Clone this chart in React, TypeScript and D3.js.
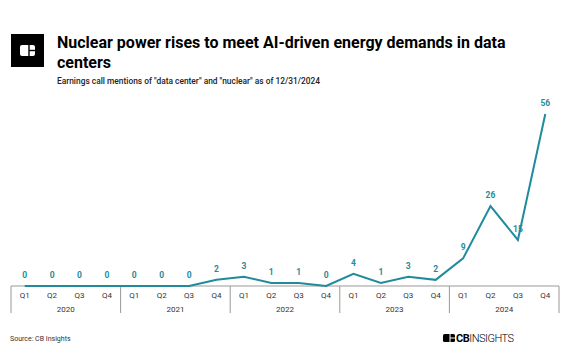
import React from "react";
import * as d3 from "d3";

const years = ["2020", "2021", "2022", "2023", "2024"];
const quarters = ["Q1", "Q2", "Q3", "Q4"];
const mentions = [0, 0, 0, 0, 0, 0, 0, 2, 3, 1, 1, 0, 4, 1, 3, 2, 9, 26, 15, 56];

const TEAL = "#1f8b9b";
const FONT = "Roboto, 'Noto Sans', sans-serif";

export default function App() {
  const W = 572, H = 364;
  const periods = years.flatMap((y) => quarters.map((q) => `${y}-${q}`));
  const x = d3.scaleBand<string>().domain(periods).range([11, 559]).padding(0);
  const y = d3.scaleLinear().domain([0, 56]).range([286, 114]);
  const bw = x.bandwidth();
  const cx = (i: number) => (x(periods[i]) as number) + bw / 2;
  const line = d3
    .line<number>()
    .x((_, i) => cx(i))
    .y((d) => y(d));

  return (
    <svg width={W} height={H} style={{ position: "absolute", left: 0, top: 0, background: "#fff" }} fontFamily={FONT}>
      <rect width={W} height={H} fill="#fff" />
      {/* icon */}
      <rect x={11} y={34} width={33} height={33} fill="#000" />
      <rect x={20} y={45} width={15} height={11} rx={2} fill="#fff" />
      <line x1={29} y1={45} x2={29} y2={56} stroke="#000" strokeWidth={1.4} />
      <line x1={29} y1={50.5} x2={35} y2={50.5} stroke="#000" strokeWidth={1.4} />
      <text x={57} y={48} fontSize={16} fontWeight={700} fill="#000">
        Nuclear power rises to meet AI-driven energy demands in data
      </text>
      <text x={57} y={68} fontSize={16} fontWeight={700} fill="#000">
        centers
      </text>
      <text x={57} y={84} fontSize={8.4} fontWeight={500} fill="#222">
        Earnings call mentions of "data center" and "nuclear" as of 12/31/2024
      </text>

      {/* axis */}
      <line x1={11} x2={559} y1={286} y2={286} stroke="#999" strokeWidth={1} />
      {years.map((yr, k) => (
        <line key={"d" + yr} x1={(x(periods[k * 4]) as number)} x2={(x(periods[k * 4]) as number)} y1={286} y2={313} stroke="#999" strokeWidth={1} />
      ))}
      <line x1={559} x2={559} y1={286} y2={313} stroke="#999" strokeWidth={1} />
      {periods.map((p, i) => (
        <text key={"q" + p} x={cx(i)} y={298} textAnchor="middle" fontSize={8} fill="#333">
          {quarters[i % 4]}
        </text>
      ))}
      {years.map((yr, k) => {
        const x0 = x(periods[k * 4]) as number;
        return (
          <text key={"y" + yr} x={x0 + bw * 2} y={312} textAnchor="middle" fontSize={8} fill="#333">
            {yr}
          </text>
        );
      })}

      <path d={line(mentions) || ""} fill="none" stroke={TEAL} strokeWidth={2} strokeLinejoin="miter" />
      {mentions.map((v, i) => (
        <text key={"v" + i} x={cx(i)} y={y(v) - 8} textAnchor="middle" fontSize={8.5} fontWeight={700} fill={TEAL}>
          {v}
        </text>
      ))}

      <text x={10} y={341} fontSize={7} fill="#333">
        Source: CB Insights
      </text>
      {/* logo */}
      <rect x={443} y={334} width={12} height={8} rx={1.5} fill="#000" />
      <line x1={450} y1={334} x2={450} y2={342} stroke="#fff" strokeWidth={1} />
      <line x1={450} y1={338} x2={455} y2={338} stroke="#fff" strokeWidth={1} />
      <text x={456} y={342} fontSize={11} fill="#000" letterSpacing={-0.5}>
        <tspan fontWeight={700}>CB</tspan>
        <tspan fontWeight={300}>INSIGHTS</tspan>
      </text>
    </svg>
  );
}
